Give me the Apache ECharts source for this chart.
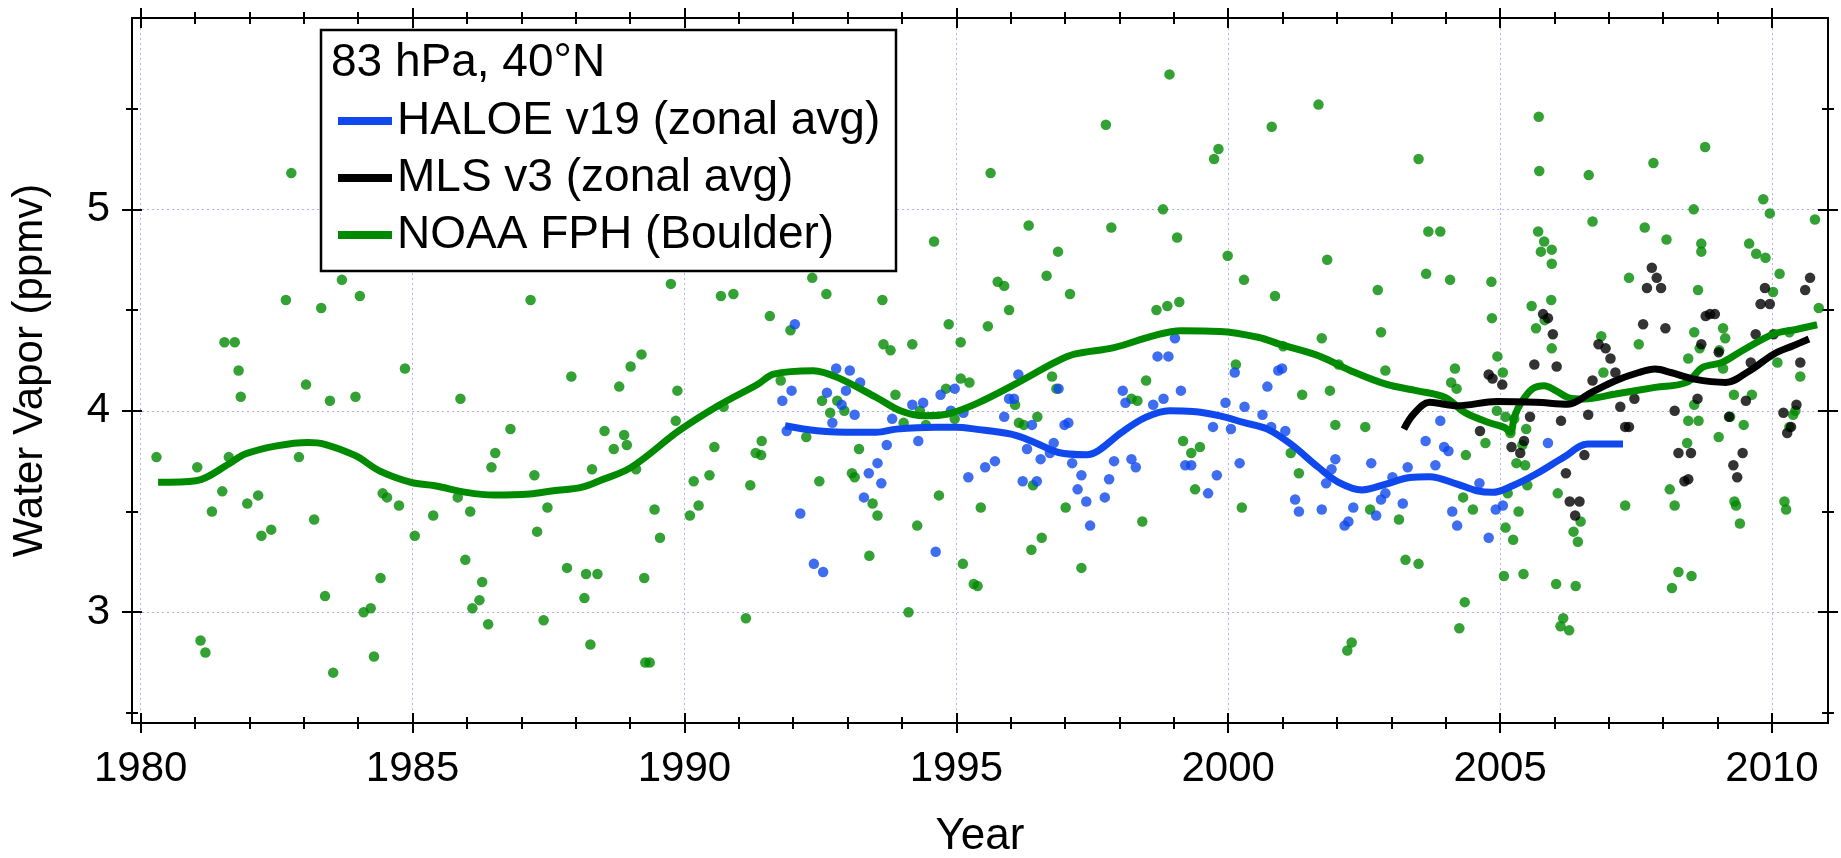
<!DOCTYPE html>
<html>
<head>
<meta charset="utf-8">
<title>Water Vapor 83 hPa, 40°N</title>
<script src="https://cdn.jsdelivr.net/npm/echarts@6.0.0/dist/echarts.min.js"></script>
<style>
  html, body { margin: 0; padding: 0; background: #fff; }
  #chart { width: 1841px; height: 858px; }
</style>
</head>
<body>
<div id="chart"></div>
<script>
// axis ticks
const majorYears = [1980, 1985, 1990, 1995, 2000, 2005, 2010];
const minorYears = [1981, 1982, 1983, 1984, 1986, 1987, 1988, 1989, 1991, 1992, 1993, 1994,
  1996, 1997, 1998, 1999, 2001, 2002, 2003, 2004, 2006, 2007, 2008, 2009];
const majorVals = [3, 4, 5];
const minorVals = [2.5, 3.5, 4.5, 5.5];

// NOAA frost point hygrometer, Boulder (individual soundings)
const noaaPoints = [
  [1980.29,3.77],[1981.04,3.72],[1981.10,2.86],[1981.19,2.80],[1981.31,3.50],[1981.50,3.60],[1981.54,4.34],[1981.62,3.77],
  [1981.73,4.34],[1981.80,4.20],[1981.84,4.07],[1981.96,3.54],[1982.16,3.58],[1982.22,3.38],[1982.40,3.41],[1982.67,4.55],
  [1982.77,5.18],[1982.91,3.77],[1983.04,4.13],[1983.19,3.46],[1983.32,4.51],[1983.39,3.08],[1983.48,4.05],[1983.54,2.70],
  [1983.70,4.65],[1983.95,4.07],[1984.03,4.57],[1984.10,3.00],[1984.23,3.02],[1984.29,2.78],[1984.41,3.17],[1984.45,3.59],
  [1984.53,3.57],[1984.75,3.53],[1984.86,4.21],
  [1985.04,3.38],[1985.38,3.48],[1985.83,3.57],[1985.88,4.06],[1985.97,3.26],[1986.06,3.50],[1986.10,3.02],[1986.23,3.06],
  [1986.28,3.15],[1986.39,2.94],[1986.45,3.72],[1986.52,3.79],[1986.80,3.91],[1987.17,4.55],[1987.24,3.68],[1987.29,3.40],
  [1987.41,2.96],[1987.48,3.52],[1987.84,3.22],[1987.92,4.17],[1988.16,3.07],[1988.19,3.19],[1988.27,2.84],[1988.30,3.71],
  [1988.40,3.19],[1988.53,3.90],[1988.70,3.81],[1988.80,4.12],[1988.89,3.88],[1988.94,3.83],[1989.01,4.22],[1989.11,3.71],
  [1989.21,4.28],[1989.26,3.17],[1989.28,2.75],[1989.36,2.75],[1989.45,3.51],[1989.55,3.37],[1989.75,4.63],[1989.84,3.95],
  [1989.87,4.10],
  [1990.10,3.48],[1990.17,3.65],[1990.26,3.53],[1990.46,3.68],[1990.55,3.82],[1990.67,4.57],[1990.72,4.02],[1990.90,4.58],
  [1991.13,2.97],[1991.21,3.63],[1991.31,3.79],[1991.41,3.78],[1991.42,3.85],[1991.57,4.47],[1991.77,4.15],[1991.95,4.40],
  [1992.24,3.87],[1992.35,4.66],[1992.48,3.65],[1992.53,4.05],[1992.61,4.58],[1992.68,3.99],[1992.81,4.05],[1992.94,4.00],
  [1993.08,3.69],[1993.13,3.67],[1993.21,3.81],[1993.40,3.28],[1993.46,3.54],[1993.55,3.48],[1993.64,4.55],[1993.66,4.33],
  [1993.79,4.30],[1993.88,4.08],[1994.03,3.94],[1994.12,3.00],[1994.19,4.33],[1994.28,3.43],[1994.33,4.00],[1994.44,3.93],
  [1994.59,4.84],[1994.68,3.58],[1994.81,4.11],[1994.86,4.43],[1994.97,3.96],
  [1995.08,4.34],[1995.08,4.16],[1995.12,3.24],[1995.24,4.14],[1995.32,3.14],[1995.39,3.13],[1995.45,3.52],[1995.58,4.42],
  [1995.63,5.18],[1995.76,4.64],[1995.88,4.62],[1995.97,4.50],[1996.08,4.03],[1996.15,3.94],[1996.24,3.93],[1996.33,4.92],
  [1996.38,3.31],[1996.41,3.63],[1996.49,3.97],[1996.57,3.37],[1996.66,4.67],[1996.76,4.17],[1996.84,4.11],[1996.87,4.79],
  [1997.01,3.52],[1997.09,4.58],[1997.30,3.22],[1997.75,5.42],[1997.85,4.91],[1998.22,4.06],[1998.33,4.05],[1998.42,3.45],
  [1998.49,4.15],[1998.68,4.50],[1998.80,5.00],[1998.88,4.52],[1998.92,5.67],[1999.06,4.86],[1999.10,4.54],[1999.17,3.85],
  [1999.32,3.79],[1999.39,3.61],[1999.48,3.82],[1999.74,5.25],[1999.82,5.30],[1999.99,4.77],
  [2000.14,4.23],[2000.25,3.52],[2000.29,4.65],[2000.80,5.41],[2000.86,4.57],[2001.01,4.32],[2001.15,3.79],[2001.30,3.69],
  [2001.36,4.08],[2001.66,5.52],[2001.72,4.36],[2001.82,4.75],[2001.87,4.10],[2001.97,3.93],[2002.03,4.23],[2002.19,2.81],
  [2002.27,2.85],[2002.52,3.92],[2002.61,3.51],[2002.75,4.60],[2002.81,4.39],[2002.89,4.20],[2003.14,3.46],[2003.26,3.26],
  [2003.50,3.24],[2003.50,5.25],[2003.64,4.68],[2003.68,4.89],[2003.90,4.89],[2004.08,4.65],[2004.10,4.14],[2004.17,4.21],
  [2004.20,4.11],[2004.25,2.92],[2004.32,3.57],[2004.35,3.05],[2004.37,3.78],[2004.50,3.51],[2004.73,3.84],[2004.84,4.64],
  [2004.85,4.46],[2004.94,4.00],[2004.95,4.27],
  [2005.05,4.19],[2005.07,3.18],[2005.10,3.97],[2005.10,3.42],[2005.14,3.59],[2005.19,3.89],[2005.24,3.36],[2005.26,3.96],
  [2005.30,3.74],[2005.34,3.50],[2005.41,3.83],[2005.43,3.19],[2005.46,3.73],[2005.48,3.91],[2005.50,3.63],[2005.58,4.52],
  [2005.66,4.41],[2005.70,4.89],[2005.71,5.46],[2005.72,5.19],[2005.75,4.79],[2005.81,4.84],[2005.82,4.45],[2005.94,4.55],
  [2005.95,4.80],[2005.95,4.73],[2005.95,4.31],[2006.03,3.14],[2006.06,3.59],[2006.11,2.93],[2006.16,2.97],[2006.27,2.91],
  [2006.35,3.40],[2006.39,3.13],[2006.43,3.35],[2006.48,3.45],[2006.63,5.17],[2006.70,4.94],[2006.86,4.37],[2006.90,4.19],
  [2007.30,3.53],[2007.37,4.66],[2007.55,4.33],[2007.66,4.91],[2007.82,5.23],[2008.06,4.85],[2008.12,3.61],[2008.16,3.12],
  [2008.21,3.53],[2008.28,3.20],[2008.44,3.84],[2008.46,4.26],[2008.46,3.95],[2008.52,3.18],[2008.56,5.00],[2008.57,4.39],
  [2008.57,4.03],[2008.64,4.60],[2008.65,3.95],[2008.67,4.31],[2008.70,4.83],[2008.70,4.79],[2008.77,5.31],[2009.02,3.87],
  [2009.03,4.30],[2009.10,4.41],[2009.10,4.21],[2009.14,4.36],[2009.23,3.97],[2009.30,4.08],[2009.31,3.55],[2009.34,3.53],
  [2009.41,3.44],[2009.48,3.93],[2009.58,4.83],[2009.63,4.08],[2009.71,4.78],[2009.84,5.05],[2009.88,4.76],[2009.96,4.98],
  [2010.02,4.59],[2010.10,4.24],[2010.14,4.68],[2010.23,3.55],[2010.26,3.51],[2010.32,4.39],[2010.32,3.92],[2010.39,3.98],
  [2010.43,4.00],[2010.52,4.17],[2010.79,4.95],[2010.86,4.51]
];

// HALOE v19 zonal averages
const haloePoints = [
  [1991.80,4.05],[1991.88,3.90],[1991.97,4.10],[1992.03,4.43],[1992.13,3.49],[1992.38,3.24],[1992.55,3.20],[1992.62,4.09],
  [1992.72,3.94],[1992.79,4.21],[1992.89,4.03],[1992.97,4.10],[1993.04,4.20],[1993.13,3.98],[1993.23,4.14],[1993.30,3.57],
  [1993.39,3.69],[1993.55,3.74],[1993.62,3.64],[1993.72,3.83],[1993.82,3.96],[1994.19,4.03],[1994.30,3.85],[1994.39,4.04],
  [1994.62,3.30],[1994.71,4.08],[1994.90,4.00],[1994.97,4.11],[1995.13,3.99],[1995.22,3.67],[1995.53,3.72],[1995.71,3.75],
  [1995.88,3.97],[1995.97,4.06],[1996.06,4.06],[1996.14,4.18],[1996.22,3.65],[1996.30,3.81],[1996.39,3.93],[1996.48,3.65],
  [1996.55,3.76],[1996.72,3.79],[1996.79,3.84],[1996.88,4.11],[1996.99,3.93],[1997.06,3.94],[1997.13,3.74],[1997.23,3.61],
  [1997.30,3.68],[1997.39,3.55],[1997.46,3.43],[1997.73,3.57],[1997.81,3.66],[1997.90,3.75],[1998.06,4.10],[1998.11,4.04],
  [1998.22,3.76],[1998.30,3.72],[1998.62,4.03],[1998.70,4.27],[1998.81,4.06],[1998.90,4.27],[1999.02,4.36],[1999.13,4.10],
  [1999.21,3.73],[1999.32,3.73],[1999.63,3.59],[1999.72,3.92],[1999.79,3.68],[1999.95,4.04],[2000.05,3.91],[2000.12,4.19],
  [2000.21,3.74],[2000.30,4.02],[2000.63,3.98],[2000.72,4.12],[2000.79,3.92],[2000.92,4.20],[2000.99,4.21],[2001.05,3.90],
  [2001.23,3.56],[2001.30,3.50],[2001.72,3.51],[2001.80,3.64],[2001.90,3.71],[2001.97,3.76],[2002.14,3.43],[2002.21,3.45],
  [2002.30,3.52],[2002.63,3.74],[2002.72,3.48],[2002.81,3.56],[2002.89,3.59],[2003.02,3.67],[2003.21,3.54],[2003.30,3.72],
  [2003.63,3.85],[2003.81,3.73],[2003.90,3.95],[2003.97,3.82],[2004.05,3.80],[2004.12,3.50],[2004.21,3.43],[2004.62,3.64],
  [2004.79,3.37],[2004.92,3.51],[2005.05,3.53],[2005.88,3.84]
];

// MLS v3 zonal averages
const mlsPoints = [
  [2004.63,3.90],[2004.79,4.18],[2004.86,4.16],[2005.04,4.13],[2005.21,3.82],[2005.37,3.79],[2005.44,3.85],[2005.55,3.97],
  [2005.63,4.23],[2005.79,4.48],[2005.88,4.46],[2005.97,4.38],[2006.04,4.22],[2006.12,3.95],[2006.21,3.69],[2006.28,3.55],
  [2006.38,3.48],[2006.46,3.55],[2006.55,3.78],[2006.62,3.98],[2006.70,4.15],[2006.81,4.33],[2006.94,4.31],[2007.03,4.26],
  [2007.12,4.19],[2007.21,4.02],[2007.30,3.92],[2007.37,3.92],[2007.47,4.06],[2007.63,4.43],[2007.70,4.61],[2007.79,4.71],
  [2007.88,4.66],[2007.96,4.61],[2008.04,4.41],[2008.21,4.00],[2008.28,3.79],[2008.39,3.65],[2008.46,3.66],[2008.51,3.79],
  [2008.63,4.06],[2008.70,4.33],[2008.78,4.47],[2008.86,4.48],[2008.95,4.48],[2009.02,4.29],[2009.21,3.97],[2009.29,3.73],
  [2009.36,3.67],[2009.46,3.79],[2009.52,4.05],[2009.61,4.24],[2009.70,4.38],[2009.79,4.53],[2009.87,4.61],[2009.96,4.53],
  [2010.03,4.38],[2010.21,3.99],[2010.28,3.89],[2010.35,3.92],[2010.45,4.03],[2010.52,4.24],[2010.61,4.60],[2010.70,4.66]
];

// smoothed curves
const noaaSmooth = [
  [1980.32,3.645],[1981.02,3.653],[1981.62,3.736],[1981.92,3.785],[1982.50,3.826],[1983.08,3.843],[1983.37,3.835],
  [1983.95,3.777],[1984.39,3.702],[1984.97,3.645],[1985.41,3.628],[1985.99,3.595],[1986.50,3.582],[1987.15,3.587],
  [1987.59,3.603],[1988.10,3.620],[1988.44,3.653],[1989.02,3.719],[1989.90,3.901],[1990.62,4.025],[1991.35,4.132],
  [1991.64,4.182],[1992.37,4.199],[1992.81,4.166],[1993.53,4.066],[1993.97,4.000],[1994.41,3.975],[1994.84,3.984],
  [1995.35,4.033],[1996.08,4.132],[1996.81,4.240],[1997.17,4.281],[1997.90,4.314],[1998.62,4.372],[1999.13,4.397],
  [1999.85,4.394],[2000.57,4.364],[2000.94,4.331],[2001.66,4.273],[2002.25,4.199],[2002.90,4.132],[2003.48,4.099],
  [2003.99,4.066],[2004.35,3.992],[2004.79,3.942],[2005.08,3.917],[2005.19,3.893],[2005.26,3.967],[2005.37,4.033],
  [2005.59,4.108],[2005.81,4.124],[2006.03,4.099],[2006.25,4.066],[2006.54,4.058],[2007.12,4.083],[2007.85,4.116],
  [2008.43,4.141],[2008.72,4.215],[2009.08,4.240],[2009.45,4.298],[2010.03,4.381],[2010.46,4.405],[2010.83,4.427]
];
const haloeSmooth = [
  [1991.85,3.926],[1992.44,3.901],[1993.17,3.893],[1993.53,3.893],[1993.90,3.909],[1994.62,3.918],[1994.99,3.918],
  [1995.35,3.909],[1996.01,3.884],[1996.44,3.843],[1996.88,3.793],[1997.39,3.782],[1997.61,3.802],[1998.04,3.893],
  [1998.48,3.967],[1998.92,4.000],[1999.35,3.997],[1999.85,3.975],[2000.28,3.942],[2000.72,3.909],[2001.15,3.835],
  [2001.66,3.719],[2002.03,3.645],[2002.46,3.607],[2002.90,3.636],[2003.34,3.669],[2003.70,3.673],[2004.21,3.636],
  [2004.57,3.603],[2004.86,3.595],[2005.23,3.628],[2005.66,3.686],[2006.17,3.769],[2006.61,3.835],[2007.26,3.835]
];
const mlsSmooth = [
  [2003.23,3.909],[2003.41,3.984],[2003.70,4.042],[2004.21,4.025],[2004.94,4.046],[2005.66,4.042],[2006.25,4.033],
  [2006.68,4.091],[2007.12,4.149],[2007.55,4.190],[2007.85,4.207],[2008.14,4.190],[2008.57,4.157],[2009.15,4.141],
  [2009.59,4.199],[2010.03,4.281],[2010.39,4.323],[2010.68,4.356]
];

const FONT = 'Liberation Sans, Arial, sans-serif';
const GREEN = '#008a00';
const BLUE = '#0f48ec';
const GRIDLINE = '#b0b0f4';
const X_MIN = 1979.84, X_MAX = 2011.03;
const Y_MIN = 2.45, Y_MAX = 5.95;

// ticks cross the frame: an axis moved inward by half the tick length
function tickAxis(kind, pos, len, values) {
  return {
    type: 'value', position: pos, min: kind === 'x' ? X_MIN : Y_MIN, max: kind === 'x' ? X_MAX : Y_MAX,
    offset: -len / 2,
    axisLine: { show: false },
    axisLabel: { show: false },
    splitLine: { show: false },
    axisTick: { show: true, inside: false, length: len, customValues: values,
      lineStyle: { color: '#000', width: 2 } }
  };
}

const chart = echarts.init(document.getElementById('chart'));
chart.setOption({
  animation: false,
  backgroundColor: '#fff',
  grid: { left: 132, right: 13, top: 18, bottom: 135, show: true, borderColor: '#000', borderWidth: 2,
    outerBoundsMode: 'none' },
  title: {
    text: '83 hPa, 40°N', left: 331, top: 38, padding: 0, z: 12,
    textStyle: { fontFamily: FONT, fontSize: 46, fontWeight: 'normal', color: '#000', lineHeight: 50 }
  },
  legend: {
    data: ['HALOE v19 (zonal avg)', 'MLS v3 (zonal avg)', 'NOAA FPH (Boulder)'],
    orient: 'vertical', left: 338, top: 96, padding: 0, itemGap: 7, z: 12,
    icon: 'rect', itemWidth: 54, itemHeight: 8,
    textStyle: { fontFamily: FONT, fontSize: 46, color: '#000', lineHeight: 50 }
  },
  graphic: [{
    type: 'rect', z: 10,
    shape: { x: 321, y: 30, width: 575, height: 241 },
    style: { fill: '#fff', stroke: '#000', lineWidth: 2.5 }
  }],
  xAxis: [
    {
      type: 'value', position: 'bottom', min: X_MIN, max: X_MAX,
      name: 'Year', nameLocation: 'middle', nameGap: 92,
      nameTextStyle: { fontFamily: FONT, fontSize: 44, color: '#000' },
      axisLine: { show: false },
      axisTick: { show: false, customValues: majorYears },
      axisLabel: { customValues: majorYears, margin: 25, fontFamily: FONT, fontSize: 42, color: '#000',
        formatter: v => String(v) },
      splitLine: { show: true, lineStyle: { color: GRIDLINE, width: 1, type: [2, 3] } }
    },
    tickAxis('x', 'bottom', 20, majorYears),
    tickAxis('x', 'bottom', 12, minorYears),
    tickAxis('x', 'top', 20, majorYears),
    tickAxis('x', 'top', 12, minorYears)
  ],
  yAxis: [
    {
      type: 'value', position: 'left', min: Y_MIN, max: Y_MAX,
      name: 'Water Vapor (ppmv)', nameLocation: 'middle', nameGap: 81,
      nameTextStyle: { fontFamily: FONT, fontSize: 42, color: '#000' },
      axisLine: { show: false },
      axisTick: { show: false, customValues: majorVals },
      axisLabel: { customValues: majorVals, margin: 22, fontFamily: FONT, fontSize: 42, color: '#000',
        formatter: v => String(v) },
      splitLine: { show: true, lineStyle: { color: GRIDLINE, width: 1, type: [2, 3] } }
    },
    tickAxis('y', 'left', 20, majorVals),
    tickAxis('y', 'left', 12, minorVals),
    tickAxis('y', 'right', 20, majorVals),
    tickAxis('y', 'right', 12, minorVals)
  ],
  series: [
    { type: 'scatter', name: 'NOAA FPH soundings', data: noaaPoints, symbolSize: 10.5,
      itemStyle: { color: GREEN }, z: 2 },
    { type: 'scatter', name: 'HALOE v19 points', data: haloePoints, symbolSize: 10.5,
      itemStyle: { color: BLUE }, z: 2 },
    { type: 'scatter', name: 'MLS v3 points', data: mlsPoints, symbolSize: 10.5,
      itemStyle: { color: '#000' }, z: 2 },
    { type: 'line', name: 'NOAA FPH (Boulder)', data: noaaSmooth, showSymbol: false, smooth: 0.35,
      lineStyle: { width: 7, color: GREEN }, itemStyle: { color: GREEN }, z: 3 },
    { type: 'line', name: 'HALOE v19 (zonal avg)', data: haloeSmooth, showSymbol: false, smooth: 0.35,
      lineStyle: { width: 7, color: BLUE }, itemStyle: { color: BLUE }, z: 3 },
    { type: 'line', name: 'MLS v3 (zonal avg)', data: mlsSmooth, showSymbol: false, smooth: 0.35,
      lineStyle: { width: 7, color: '#000' }, itemStyle: { color: '#000' }, z: 3 }
  ]
});
</script>
</body>
</html>
